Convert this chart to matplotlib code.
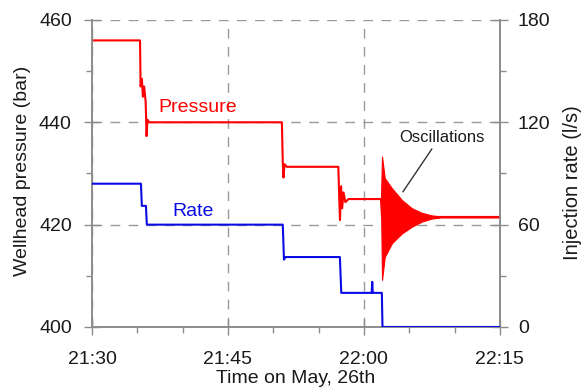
import matplotlib
matplotlib.use("Agg")
import matplotlib.pyplot as plt
from matplotlib.ticker import MultipleLocator, FixedLocator

plt.rcParams["font.family"] = ["Liberation Sans", "DejaVu Sans"]

# minutes after 21:30
PRESS_T = [0, 5.30, 5.36, 5.50, 5.62, 5.75, 5.92, 6.02, 6.12, 6.30, 20.95, 21.05,
           21.12, 21.25, 21.5, 27.18, 27.28, 27.36, 27.48, 27.60, 27.75, 27.95, 28.3, 31.88]
PRESS_V = [456, 456, 447, 448.5, 445, 447, 444, 437.3, 440.5, 440, 440, 432,
           429.2, 431.8, 431.3, 431.3, 425, 420.9, 427.5, 423.2, 426.3, 424.4, 425, 425]

# envelope of the pressure ringing after shut-in
OSC_T = [31.88, 32.0, 32.3, 33.1, 34.2, 35.3, 36.4, 37.5, 38.5, 45]
OSC_HI = [425, 433.3, 429.1, 427.1, 424.8, 423.2, 422.3, 421.8, 421.6, 421.6]
OSC_LO = [425, 409.2, 413.7, 416.4, 418.3, 419.6, 420.6, 421.2, 421.4, 421.4]
OSC_MID = [425, 421.5, 421.5, 421.5, 421.5, 421.5, 421.5, 421.5, 421.5, 421.5]

RATE_T = [0, 5.40, 5.50, 5.95, 6.05, 21.05, 21.18, 21.35, 27.35, 27.50,
          30.85, 30.92, 30.98, 31.98, 32.05, 45]
RATE_V = [84, 84, 71, 71, 60, 60, 39.5, 41, 41, 20,
          20, 26.5, 20, 20, 0, 0]

X_TICKS = [0, 15, 30, 45]
X_LABELS = ["21:30", "21:45", "22:00", "22:15"]
P_TICKS = [400, 420, 440, 460]
R_TICKS = [0, 60, 120, 180]

RED = "#ff0000"
BLUE = "#0a0ae6"
GRAY = "#8c8c8c"
TXT = "#1a1a1a"

fig = plt.figure(figsize=(5.86, 3.91), dpi=100)
ax = fig.add_axes([0.157, 0.1637, 0.696, 0.7853])
ax2 = ax.twinx()

# pressure trace
ax.plot(PRESS_T, PRESS_V, color=RED, lw=1.5, zorder=3)
ax.fill_between(OSC_T, OSC_LO, OSC_HI, color=RED, lw=0.8, zorder=3)
ax.plot(OSC_T, OSC_MID, color=RED, lw=1.5, zorder=3)

# injection rate trace
ax2.plot(RATE_T, RATE_V, color=BLUE, lw=1.5, zorder=3)

ax.set_xlim(0, 45)
ax.set_ylim(400, 460)
ax2.set_ylim(0, 180)

ax.xaxis.set_major_locator(FixedLocator(X_TICKS))
ax.set_xticklabels(X_LABELS)
ax.xaxis.set_minor_locator(MultipleLocator(5))
ax.yaxis.set_major_locator(FixedLocator(P_TICKS))
ax.yaxis.set_minor_locator(MultipleLocator(10))
ax2.yaxis.set_major_locator(FixedLocator(R_TICKS))
ax2.yaxis.set_minor_locator(MultipleLocator(30))

ax.grid(True, which="major", color="#9a9a9a", ls=(0, (7, 6)), lw=1.0)

for a in (ax, ax2):
    for s in a.spines.values():
        s.set_color(GRAY)
        s.set_linewidth(1.2)
    a.spines["top"].set_visible(False)
    a.tick_params(which="major", direction="inout", length=11, width=1.0,
                  color=GRAY, labelsize=14, labelcolor=TXT)
    a.tick_params(which="minor", direction="out", length=4.5, width=1.0, color=GRAY)
ax.tick_params(axis="x", which="major", pad=12)
ax.tick_params(axis="y", which="major", pad=9)
ax2.tick_params(axis="y", which="major", pad=7.5)

ax.set_xlabel("Time on May, 26th", fontsize=14, color=TXT, labelpad=1)
ax.set_ylabel("Wellhead pressure (bar)", fontsize=14, color=TXT)
ax.yaxis.set_label_coords(-0.15, 0.51)
ax2.set_ylabel("Injection rate (l/s)", fontsize=14.5, color=TXT)
ax2.yaxis.set_label_coords(1.155, 0.47)

ax.text(11.7, 442.8, "Pressure", color=RED, fontsize=14, ha="center", va="center")
ax.text(11.2, 422.5, "Rate", color=BLUE, fontsize=14, ha="center", va="center")
ax.text(38.6, 437.1, "Oscillations", fontsize=12, color=TXT, ha="center", va="center")
ax.annotate("", xy=(34.3, 426.4), xytext=(37.5, 434.8),
            arrowprops=dict(arrowstyle="-", color="#333333", lw=1.0,
                            shrinkA=0, shrinkB=0))

fig.savefig("out.png", dpi=100)
